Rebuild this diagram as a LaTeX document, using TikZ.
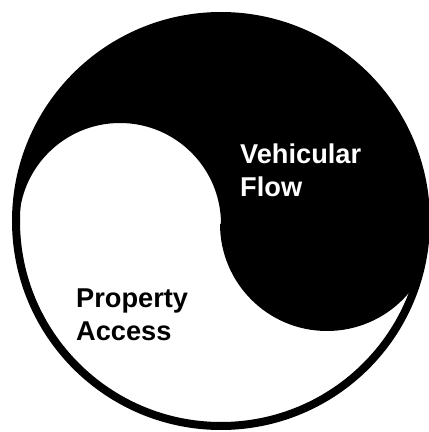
\documentclass[tikz,border=0pt]{standalone}
\usepackage{fontspec}
\setmainfont{Liberation Sans}
\begin{document}
\begin{tikzpicture}[x=1pt,y=1pt,
  label/.style={anchor=base west, inner sep=0pt, font=\fontsize{27.2}{32}\selectfont\bfseries}]
  \useasboundingbox (0,0) rectangle (429,432);
  \fill[white] (0,0) rectangle (429,432);
  % outer ring centre
  \coordinate (O) at (221,211);
  % dark half: top of the disc minus the left lobe, plus the right lobe
  \begin{scope}
    \clip (O) circle[radius=205];
    \fill[black] (19,208) arc[start angle=180, end angle=0, radius=101]
      -- (220,208) arc[start angle=180, end angle=360, radius=107]
      -- (445,208) -- (445,445) -- (-10,445) -- (-10,208) -- cycle;
  \end{scope}
  \draw[line width=8pt] (O) circle[radius=205];
  % labels
  \node[label, text=white] (veh) at (240,268) {Vehicular};
  \node[label, text=white] (flow) at (240,235.5) {Flow};
  \node[label] (prop) at (76,124) {Property};
  \node[label] (acc) at (76,92) {Access};
\end{tikzpicture}
\end{document}
